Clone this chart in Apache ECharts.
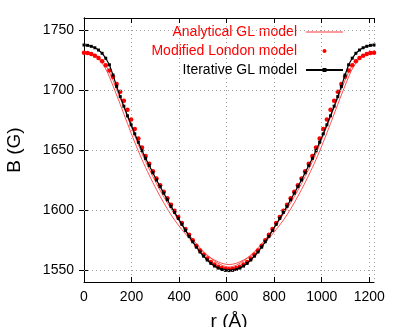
<!DOCTYPE html>
<html>
<head>
<meta charset="utf-8">
<script src="https://cdn.jsdelivr.net/npm/echarts@6/dist/echarts.min.js"></script>
<style>html,body{margin:0;padding:0;background:#fff}#c{width:400px;height:327px}</style>
</head>
<body>
<div id="c"></div>
<script>
// r positions (Å)
const rDense = [0, 15.25, 30.5, 45.75, 61, 76.25, 91.5, 106.75, 122, 137.25, 152.5, 167.75, 183, 198.25, 213.5, 228.75, 244, 259.25, 274.5, 289.75, 305, 320.25, 335.5, 350.75, 366, 381.25, 396.5, 411.75, 427, 442.25, 457.5, 472.75, 488, 503.25, 518.5, 533.75, 549, 564.25, 579.5, 594.75, 610, 625.25, 640.5, 655.75, 671, 686.25, 701.5, 716.75, 732, 747.25, 762.5, 777.75, 793, 808.25, 823.5, 838.75, 854, 869.25, 884.5, 899.75, 915, 930.25, 945.5, 960.75, 976, 991.25, 1006.5, 1021.75, 1037, 1052.25, 1067.5, 1082.75, 1098, 1113.25, 1128.5, 1143.75, 1159, 1174.25, 1189.5, 1204.75, 1220];
const rCoarse = [0, 30.5, 61, 91.5, 122, 152.5, 183, 213.5, 244, 274.5, 305, 335.5, 366, 396.5, 427, 457.5, 488, 518.5, 549, 579.5, 610, 640.5, 671, 701.5, 732, 762.5, 793, 823.5, 854, 884.5, 915, 945.5, 976, 1006.5, 1037, 1067.5, 1098, 1128.5, 1159, 1189.5, 1220];

// B (G) values
const iterativeGL = [1737.5, 1737.2, 1736.4, 1735.2, 1733.3, 1730.6, 1726.5, 1721, 1712.5, 1703, 1694.5, 1686.5, 1678.5, 1671, 1663.5, 1656.5, 1649.5, 1643, 1637, 1631, 1625, 1619.5, 1614, 1608.5, 1603, 1598, 1593, 1588, 1583, 1578, 1573.5, 1569, 1565, 1561.5, 1558.3, 1555.5, 1553.3, 1551.6, 1550.4, 1549.7, 1549.5,
  1549.7, 1550.4, 1551.6, 1553.3, 1555.5, 1558.3, 1561.5, 1565, 1569, 1573.5, 1578, 1583, 1588, 1593, 1598, 1603, 1608.5, 1614, 1619.5, 1625, 1631, 1637, 1643, 1649.5, 1656.5, 1663.5, 1671, 1678.5, 1686.5, 1694.5, 1703, 1712.5, 1721, 1726.5, 1730.6, 1733.3, 1735.2, 1736.4, 1737.2, 1737.5];
const modifiedLondon = [1731, 1730.8, 1730, 1728.6, 1726.6, 1724, 1720.6, 1716.3, 1711, 1705, 1698.5, 1691, 1683.5, 1675.5, 1667.5, 1659.5, 1652, 1645, 1638.5, 1632.3, 1626.3, 1620.7, 1615.2, 1609.8, 1604.4, 1599.3, 1594.2, 1589.2, 1584.2, 1579.3, 1574.7, 1570.3, 1566.3, 1562.7, 1559.5, 1556.7, 1554.5, 1552.8, 1551.6, 1550.9, 1550.7,
  1550.9, 1551.6, 1552.8, 1554.5, 1556.7, 1559.5, 1562.7, 1566.3, 1570.3, 1574.7, 1579.3, 1584.2, 1589.2, 1594.2, 1599.3, 1604.4, 1609.8, 1615.2, 1620.7, 1626.3, 1632.3, 1638.5, 1645, 1652, 1659.5, 1667.5, 1675.5, 1683.5, 1691, 1698.5, 1705, 1711, 1716.3, 1720.6, 1724, 1726.6, 1728.6, 1730, 1730.8, 1731];
const analyticalGL_a = [1731, 1730, 1726, 1717.5, 1703.5, 1688, 1672, 1656.5, 1642, 1629, 1617, 1606, 1596, 1587.5, 1580, 1573, 1567, 1562, 1558.3, 1555.6, 1554.5,
  1555.6, 1558.3, 1562, 1567, 1573, 1580, 1587.5, 1596, 1606, 1617, 1629, 1642, 1656.5, 1672, 1688, 1703.5, 1717.5, 1726, 1730, 1731];
const analyticalGL_b = [1731, 1730.3, 1727.5, 1720.5, 1708, 1693, 1677.5, 1662, 1647, 1634, 1622, 1611, 1601, 1592, 1583.5, 1575.5, 1568.5, 1562.5, 1557.5, 1554, 1552.5,
  1554, 1557.5, 1562.5, 1568.5, 1575.5, 1583.5, 1592, 1601, 1611, 1622, 1634, 1647, 1662, 1677.5, 1693, 1708, 1720.5, 1727.5, 1730.3, 1731];

const yTicks = [1550, 1600, 1650, 1700, 1750];
const xTicks = [0, 200, 400, 600, 800, 1000, 1200];

const seriesNames = ['Analytical GL model', 'Modified London model', 'Iterative GL model'];

const pair = (xs, ys) => xs.map((x, i) => [x, ys[i]]);

const FONT = 'Liberation Sans';
const chart = echarts.init(document.getElementById('c'), null, {renderer: 'canvas'});

const commonX = {
  type: 'value', min: 0, max: 1220, interval: 200,
  axisLine: {show: true, lineStyle: {color: '#000', width: 1}},
  axisTick: {show: true, inside: true, length: 5, lineStyle: {color: '#000'}},
};
const commonY = {
  type: 'value', min: 1540, max: 1760,
  axisLine: {show: true, lineStyle: {color: '#000', width: 1}},
  axisTick: {show: true, inside: true, length: 5, customValues: yTicks, lineStyle: {color: '#000'}},
  splitLine: {show: false}
};

chart.setOption({
  animation: false,
  backgroundColor: '#fff',
  textStyle: {fontFamily: FONT},
  grid: {left: 84, right: 26, top: 18, bottom: 45, containLabel: false, outerBoundsMode: 'none'},
  legend: {
    orient: 'vertical', right: 51, top: 20, align: 'right',
    itemWidth: 37, itemHeight: 5, itemGap: 5,
    textStyle: {fontFamily: FONT, fontSize: 14, padding: [0, 4, 0, 0]},
    data: [
      {name: seriesNames[0], textStyle: {color: '#ff0000'},
        icon: 'path://M0,0L37,0L37,2L0,2Z', itemStyle: {color: '#ff9a9a'}},
      {name: seriesNames[1], textStyle: {color: '#ff0000'}},
      {name: seriesNames[2], textStyle: {color: '#000000'}}
    ]
  },
  xAxis: [
    Object.assign({}, commonX, {
      position: 'bottom',
      name: 'r (Å)', nameLocation: 'middle', nameGap: 30,
      nameTextStyle: {fontFamily: FONT, fontSize: 19, color: '#000'},
      axisLabel: {show: true, color: '#000', fontSize: 14, fontFamily: FONT, margin: 8, showMaxLabel: false,
        formatter: v => (xTicks.indexOf(v) >= 0 ? String(v) : '')},
      splitLine: {show: true, lineStyle: {color: '#a0a0a0', type: [1, 3], width: 1}}
    }),
    Object.assign({}, commonX, {
      position: 'top', axisLabel: {show: false}, splitLine: {show: false}
    })
  ],
  yAxis: [
    Object.assign({}, commonY, {
      position: 'left',
      name: 'B (G)', nameLocation: 'middle', nameGap: 60,
      nameTextStyle: {fontFamily: FONT, fontSize: 19, color: '#000'},
      axisLabel: {show: true, color: '#000', fontSize: 14, fontFamily: FONT, margin: 10, customValues: yTicks,
        formatter: v => String(v)}
    }),
    Object.assign({}, commonY, {
      position: 'right', axisLabel: {show: false}
    })
  ],
  series: [
    {
      name: seriesNames[0], type: 'line', smooth: 0.3, symbol: 'none',
      data: pair(rCoarse, analyticalGL_a),
      lineStyle: {color: '#ff3c3c', width: 0.9}, itemStyle: {color: '#ff3c3c'},
      z: 2,
      markLine: {
        silent: true, symbol: ['none', 'none'], label: {show: false},
        lineStyle: {color: '#a0a0a0', type: [1, 3], width: 1},
        emphasis: {disabled: true},
        data: yTicks.map(v => ({yAxis: v}))
      }
    },
    {
      name: seriesNames[0], type: 'line', smooth: 0.3, symbol: 'none',
      data: pair(rCoarse, analyticalGL_b),
      lineStyle: {color: '#ff3c3c', width: 0.9}, itemStyle: {color: '#ff3c3c'},
      z: 2
    },
    {
      name: seriesNames[1], type: 'line', symbol: 'circle', symbolSize: 4.5, showSymbol: true,
      data: pair(rDense, modifiedLondon),
      lineStyle: {width: 0, opacity: 0}, itemStyle: {color: '#ff0000'},
      z: 3
    },
    {
      name: seriesNames[2], type: 'line', symbol: 'rect', symbolSize: 3, showSymbol: true,
      data: pair(rDense, iterativeGL),
      lineStyle: {color: '#000', width: 1.2}, itemStyle: {color: '#000'},
      z: 4
    }
  ]
});
</script>
</body>
</html>
